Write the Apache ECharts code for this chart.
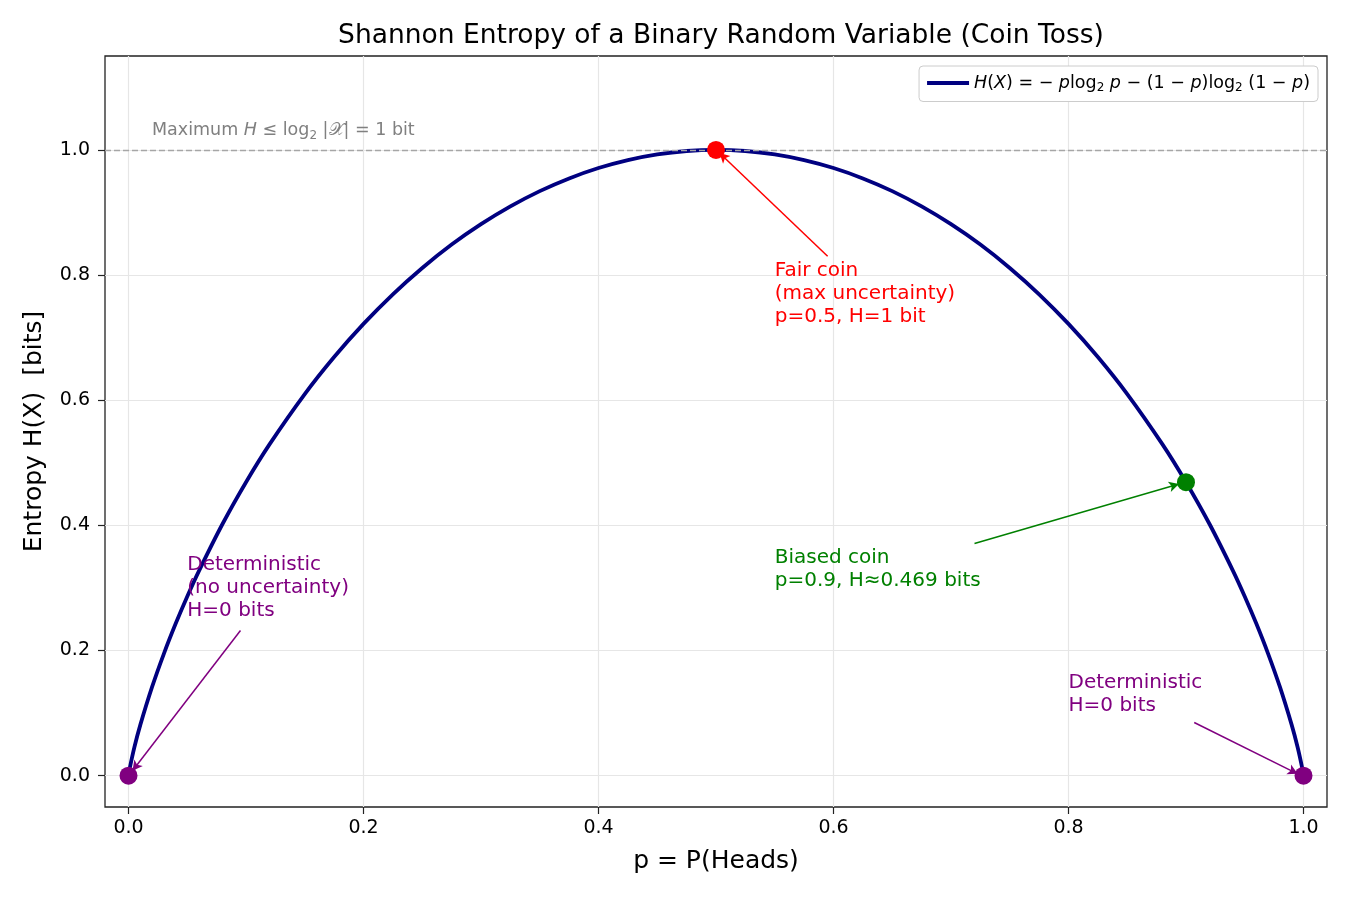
<!DOCTYPE html>
<html>
<head>
<meta charset="utf-8">
<title>Shannon Entropy of a Binary Random Variable</title>
<script src="https://cdn.jsdelivr.net/npm/echarts@6/dist/echarts.min.js"></script>
<style>
  html, body { margin: 0; padding: 0; background: #fff; }
  #main { width: 1350px; height: 900px; }
</style>
</head>
<body>
<div id="main"></div>
<script>
// values
var pValues = [0, 0.001, 0.005, 0.01, 0.02, 0.03, 0.04, 0.05, 0.06, 0.08, 0.1, 0.12, 0.15, 0.175, 0.2, 0.225, 0.25, 0.275, 0.3, 0.325, 0.35, 0.375, 0.4, 0.425, 0.45, 0.475, 0.5,
  0.525, 0.55, 0.575, 0.6, 0.625, 0.65, 0.675, 0.7, 0.725, 0.75, 0.775, 0.8, 0.825, 0.85, 0.88, 0.9, 0.92, 0.94, 0.95, 0.96, 0.97, 0.98, 0.99, 0.995, 0.999, 1];
var hValues = [0, 0.0114, 0.0454, 0.0808, 0.1414, 0.1944, 0.2423, 0.2864, 0.3274, 0.4022, 0.469, 0.5294, 0.6098, 0.669, 0.7219, 0.7692, 0.8113, 0.8487, 0.8813, 0.9097, 0.9341, 0.9544, 0.971, 0.9837, 0.9928, 0.9982, 1.0,
  0.9982, 0.9928, 0.9837, 0.971, 0.9544, 0.9341, 0.9097, 0.8813, 0.8487, 0.8113, 0.7692, 0.7219, 0.669, 0.6098, 0.5294, 0.469, 0.4022, 0.3274, 0.2864, 0.2423, 0.1944, 0.1414, 0.0808, 0.0454, 0.0114, 0];
var tickValues = [0, 0.2, 0.4, 0.6, 0.8, 1.0];
var fairCoin = [0.5, 1.0];
var biasedCoin = [0.9, 0.469];
var deterministic = [[0, 0], [1, 0]];

var curve = pValues.map(function (p, i) { return [p, hValues[i]]; });

var myChart = echarts.init(document.getElementById('main'));

var font = 'DejaVu Sans';

function note(x, y, text, color) {
  return {
    value: [x, y],
    label: {
      show: true, position: [0, 0], align: 'left', verticalAlign: 'middle',
      formatter: text, color: color, fontSize: 20, lineHeight: 23, fontFamily: font
    }
  };
}

function arrow(from, to, color) {
  return [
    { coord: from, lineStyle: { color: color, width: 1.5, type: 'solid' } },
    { coord: to }
  ];
}

var option = {
  animation: false,
  backgroundColor: '#fff',
  title: {
    text: 'Shannon Entropy of a Binary Random Variable (Coin Toss)',
    left: 716, top: 18, textAlign: 'center',
    textStyle: { fontFamily: font, fontSize: 26.5, fontWeight: 'normal', color: '#000' }
  },
  grid: {
    left: 105, right: 23, top: 56, bottom: 93,
    show: true, borderColor: '#222', borderWidth: 1.3, backgroundColor: 'transparent'
  },
  legend: {
    right: 32, top: 66,
    icon: 'rect', itemWidth: 42, itemHeight: 4, itemGap: 10,
    backgroundColor: '#fff', borderColor: '#ccc', borderWidth: 1, borderRadius: 4,
    padding: [8, 8, 8, 8],
    data: ['entropy'],
    formatter: function () {
      return '{i|H}{n|(}{i|X}{n|) = − }{i|p}{n|log}{s|2}{i| p}{n| − (1 − }{i|p}{n|)log}{s|2}{n| (1 − }{i|p}{n|)}';
    },
    textStyle: {
      fontFamily: font, color: '#000',
      rich: {
        i: { fontSize: 17.5, fontStyle: 'italic', fontFamily: font },
        n: { fontSize: 17.5, fontFamily: font },
        s: { fontSize: 12, fontFamily: font, padding: [9, 0, 0, 0] }
      }
    }
  },
  xAxis: {
    type: 'value', min: -0.02, max: 1.02,
    name: 'p = P(Heads)', nameLocation: 'middle', nameGap: 42,
    nameTextStyle: { fontFamily: font, fontSize: 25, color: '#000' },
    axisLine: { show: false, onZero: false },
    axisTick: { show: true, length: 7, customValues: tickValues, lineStyle: { color: '#222', width: 1.2 } },
    axisLabel: { customValues: tickValues, formatter: function (v) { return v.toFixed(1); }, fontFamily: font, fontSize: 19, color: '#000', margin: 12 },
    splitLine: { show: true, lineStyle: { color: '#e6e6e6', width: 1.2 } }
  },
  yAxis: {
    type: 'value', min: -0.05, max: 1.15,
    name: 'Entropy H(X)  [bits]', nameLocation: 'middle', nameGap: 58,
    nameTextStyle: { fontFamily: font, fontSize: 25, color: '#000' },
    axisLine: { show: false, onZero: false },
    axisTick: { show: true, length: 7, customValues: tickValues, lineStyle: { color: '#222', width: 1.2 } },
    axisLabel: { customValues: tickValues, formatter: function (v) { return v.toFixed(1); }, fontFamily: font, fontSize: 19, color: '#000', margin: 15 },
    splitLine: { show: true, lineStyle: { color: '#e6e6e6', width: 1.2 } }
  },
  series: [
    {
      name: 'entropy', type: 'line', data: curve, showSymbol: false, symbol: 'none',
      smooth: 0.3,
      lineStyle: { color: '#000080', width: 3.8 },
      itemStyle: { color: '#000080' },
      z: 3,
      markLine: {
        silent: true, symbol: 'none',
        label: { show: false },
        lineStyle: { color: '#a6a6a6', type: [6, 3], width: 1.4 },
        data: [{ yAxis: 1.0 }]
      }
    },
    {
      name: 'arrows', type: 'line', data: [], z: 4,
      markLine: {
        silent: true, symbol: ['none', 'arrow'], symbolSize: [8, 10],
        label: { show: false },
        data: [
          arrow([0.595, 0.83], [0.503, 0.995], '#ff0000'),
          arrow([0.72, 0.371], [0.894, 0.466], '#008000'),
          arrow([0.0953, 0.232], [0.0034, 0.008], '#800080'),
          arrow([0.907, 0.085], [0.995, 0.003], '#800080')
        ]
      }
    },
    {
      name: 'points', type: 'scatter', symbolSize: 18, z: 5,
      itemStyle: { opacity: 1 },
      data: [
        { value: fairCoin, itemStyle: { color: '#ff0000', opacity: 1 } },
        { value: biasedCoin, itemStyle: { color: '#008000', opacity: 1 } },
        { value: deterministic[0], itemStyle: { color: '#800080', opacity: 1 } },
        { value: deterministic[1], itemStyle: { color: '#800080', opacity: 1 } }
      ]
    },
    {
      name: 'notes', type: 'scatter', symbolSize: 0, z: 6, silent: true,
      itemStyle: { opacity: 1 },
      data: [
        note(0.55, 0.77, 'Fair coin\n(max uncertainty)\np=0.5, H=1 bit', '#ff0000'),
        note(0.55, 0.33, 'Biased coin\np=0.9, H≈0.469 bits', '#008000'),
        note(0.05, 0.30, 'Deterministic\n(no uncertainty)\nH=0 bits', '#800080'),
        note(0.80, 0.13, 'Deterministic\nH=0 bits', '#800080'),
        {
          value: [0.02, 1.0],
          label: {
            show: true, position: [0, -19], align: 'left', verticalAlign: 'middle',
            formatter: '{n|Maximum }{i|H}{n| ≤ log}{s|2}{n| |𝒳| = 1 bit}',
            rich: {
              n: { fontSize: 17.5, color: '#808080', fontFamily: font },
              i: { fontSize: 17.5, color: '#808080', fontStyle: 'italic', fontFamily: font },
              s: { fontSize: 12, color: '#808080', fontFamily: font, padding: [9, 0, 0, 0] }
            }
          }
        }
      ]
    }
  ]
};

myChart.setOption(option);
</script>
</body>
</html>
